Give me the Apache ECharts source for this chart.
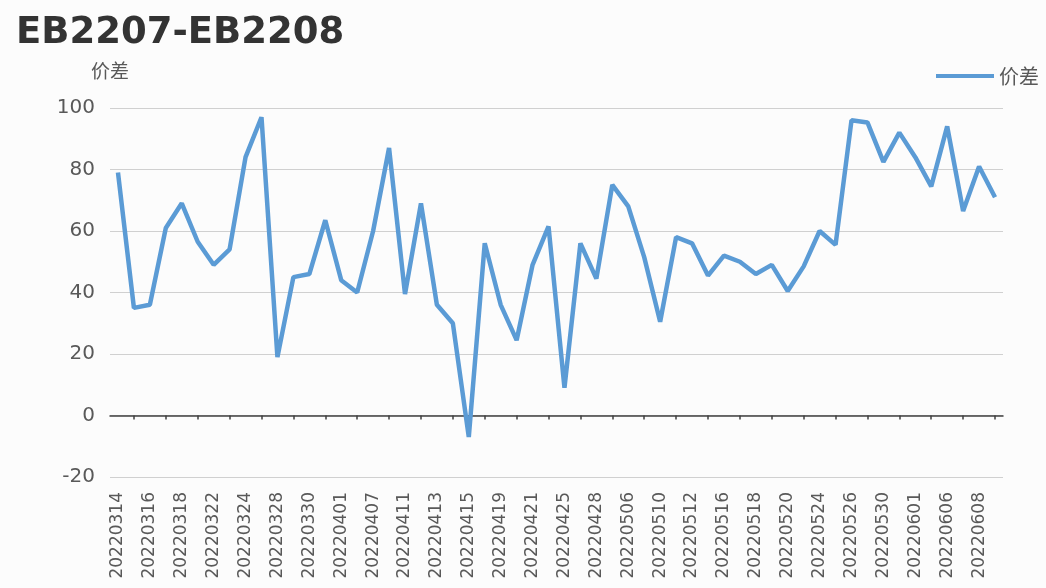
<!DOCTYPE html>
<html><head><meta charset="utf-8">
<script src="https://cdn.jsdelivr.net/npm/echarts@6/dist/echarts.min.js"></script>
<style>html,body{margin:0;padding:0;background:#fcfcfc}#c{width:1046px;height:588px}</style>
</head><body><div id="c"></div>
<script>
const titleText = 'EB2207-EB2208';
const seriesName = '价差';
const categories = [
 '20220314','20220315','20220316','20220317','20220318','20220321','20220322','20220323','20220324','20220325',
 '20220328','20220329','20220330','20220331','20220401','20220406','20220407','20220408','20220411','20220412',
 '20220413','20220414','20220415','20220418','20220419','20220420','20220421','20220422','20220425','20220427',
 '20220428','20220505','20220506','20220509','20220510','20220511','20220512','20220513','20220516','20220517',
 '20220518','20220519','20220520','20220523','20220524','20220525','20220526','20220527','20220530','20220531',
 '20220601','20220602','20220606','20220607','20220608','20220609'
];
const spread = [
 79, 35, 36, 61, 69, 56.5, 49, 54, 84, 97,
 19, 45, 46, 63.5, 44, 40, 60, 87, 39.5, 69,
 36, 30, -7, 56, 36, 24.5, 49, 61.5, 9, 56,
 44.5, 75, 68, 51.5, 30.5, 58, 56, 45.5, 52, 50,
 46, 49, 40.5, 48.5, 60, 55.5, 96, 95.3, 82.5, 92,
 84, 74.5, 94, 66.5, 81, 71
];
const yMin = -20, yMax = 100, yStep = 20;

const chart = echarts.init(document.getElementById('c'));
const lbl = '#595959';
chart.setOption({
  backgroundColor: '#fcfcfc',
  animation: false,
  title: { text: titleText, left: 11, top: 10,
    textStyle: { fontFamily: 'DejaVu Sans', fontWeight: 'bold', fontSize: 37, color: '#333' } },
  legend: { right: 2, top: 61, itemWidth: 58, itemHeight: 4, itemGap: 10, icon: 'rect',
    textStyle: { fontFamily: 'Noto Sans CJK SC', fontSize: 20, color: lbl },
    data: [seriesName] },
  grid: { left: 110, right: 43, top: 108, bottom: 111 },
  xAxis: [
    { type: 'category', data: categories, boundaryGap: true, position: 'bottom',
      axisLine: { onZero: true, lineStyle: { color: '#404040', width: 1.5 } },
      axisTick: { show: true, alignWithLabel: true, length: 4, interval: (i) => i % 2 === 1,
        lineStyle: { color: '#404040', width: 1.5 } },
      axisLabel: { show: false }, splitLine: { show: false } },
    { type: 'category', data: categories, boundaryGap: true, position: 'bottom',
      axisLine: { show: false, onZero: false }, axisTick: { show: false },
      axisLabel: { rotate: 90, interval: 1, margin: 15, fontFamily: 'DejaVu Sans', fontSize: 17, color: lbl },
      splitLine: { show: false } }
  ],
  yAxis: {
    type: 'value', min: yMin, max: yMax, interval: yStep,
    name: seriesName, nameLocation: 'end', nameGap: 28,
    nameTextStyle: { fontFamily: 'Noto Sans CJK SC', fontSize: 19, color: lbl, align: 'center' },
    axisLine: { show: false }, axisTick: { show: false },
    axisLabel: { margin: 15, fontFamily: 'DejaVu Sans', fontSize: 20, color: lbl },
    splitLine: { lineStyle: { color: '#d0d0d0', width: 1.2 } }
  },
  series: [{
    name: seriesName, type: 'line', data: spread, xAxisIndex: 0,
    symbol: 'none', smooth: false,
    lineStyle: { color: '#5b9bd5', width: 4.5 },
    itemStyle: { color: '#5b9bd5' }
  }]
});
</script></body></html>
